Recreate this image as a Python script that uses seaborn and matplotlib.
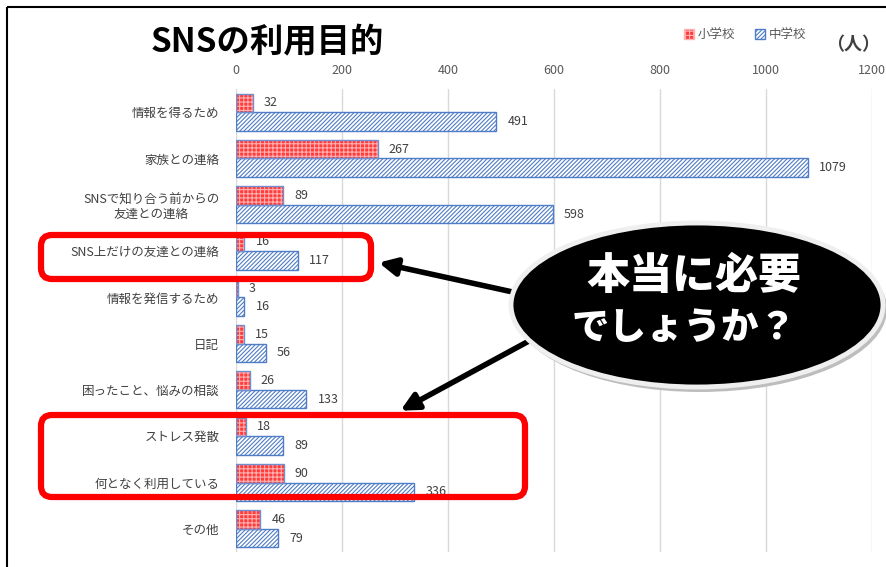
import numpy as np
import pandas as pd
import seaborn as sns
import matplotlib.pyplot as plt
from matplotlib.patches import Patch, Rectangle, FancyBboxPatch, Ellipse, FancyArrowPatch
from matplotlib.transforms import Affine2D

categories = ["情報を得るため", "家族との連絡", "SNSで知り合う前からの\n友達との連絡",
              "SNS上だけの友達との連絡", "情報を発信するため", "日記",
              "困ったこと、悩みの相談", "ストレス発散", "何となく利用している", "その他"]
elementary = [32, 267, 89, 16, 3, 15, 26, 18, 90, 46]
junior_high = [491, 1079, 598, 117, 16, 56, 133, 89, 336, 79]
schools = ["小学校", "中学校"]
xticks = [0, 200, 400, 600, 800, 1000, 1200]

W, H = 887, 567

df = pd.DataFrame({
    "category": categories * 2,
    "count": elementary + junior_high,
    "school": [schools[0]] * len(categories) + [schools[1]] * len(categories),
})

sns.set_style("white")
plt.rcParams['font.family'] = ['Noto Sans CJK JP', 'DejaVu Sans']
plt.rcParams['hatch.linewidth'] = 0.8

fig = plt.figure(figsize=(W / 100, H / 100), dpi=100)
ax = fig.add_axes([236 / W, 1 - 552 / H, 636 / W, (552 - 89) / H])

red_face, red_hatch = "#ff3c3c", "#ffb0b0"
blue_edge = "#4f7cc6"

sns.barplot(data=df, y="category", x="count", hue="school", orient="h",
            palette=[red_face, "white"], ax=ax, legend=False, width=0.8,
            saturation=1)

for bar in ax.containers[0]:
    bar.set_hatch("++++")
    bar.set_edgecolor(red_hatch)
    bar.set_linewidth(0)
    # blue outline on top of the pink hatch
    ax.add_patch(Rectangle(bar.get_xy(), bar.get_width(), bar.get_height(),
                           fill=False, edgecolor="#6f8fd0", linewidth=1, zorder=3))
for bar in ax.containers[1]:
    bar.set_hatch("////////")
    bar.set_edgecolor(blue_edge)
    bar.set_linewidth(1)

for cont in ax.containers:
    ax.bar_label(cont, padding=8, fontsize=9, color="#404040")

ax.set_xlim(0, 1200)
ax.set_ylim(9.5, -0.5)
ax.set_xticks(xticks)
ax.xaxis.tick_top()
ax.tick_params(axis="x", length=0, pad=9, labelsize=9, labelcolor="#595959")
ax.tick_params(axis="y", length=0, pad=12, labelsize=9, labelcolor="#404040")
for lab in ax.get_yticklabels():
    lab.set_multialignment("center")
ax.grid(axis="x", color="#d9d9d9", linewidth=1)
ax.set_axisbelow(True)
for s in ax.spines.values():
    s.set_visible(False)
ax.set_xlabel("")
ax.set_ylabel("")

# title, unit, legend
fig.text(267 / W, 1 - 43 / H, "SNSの利用目的", ha="center", va="center",
         fontsize=24, fontweight="bold", color="black")
fig.text(853 / W, 1 - 45 / H, "（人）", ha="center", va="center",
         fontsize=13, fontweight="bold", color="#404040")
handles = [Patch(facecolor=red_face, edgecolor=red_hatch, hatch="++++"),
           Patch(facecolor="white", edgecolor=blue_edge, hatch="////////")]
fig.legend(handles, schools, loc="center", bbox_to_anchor=(745 / W, 1 - 35 / H),
           ncol=2, frameon=False, fontsize=9, handlelength=0.8, handleheight=0.8,
           handletextpad=0.3, columnspacing=1.6, labelcolor="#595959")

# pixel coordinates (top-left origin) for the annotations
px = Affine2D().scale(1, -1).translate(0, H)

fig.patches.append(Rectangle((7, 7), W + 20, H + 20, fill=False,
                             edgecolor="black", linewidth=1.5, transform=px))

for (x0, y0, x1, y1) in [(41, 235, 371, 279), (41, 415, 525, 497)]:
    fig.patches.append(FancyBboxPatch((x0, y0), x1 - x0, y1 - y0,
                                      boxstyle="round,pad=0,rounding_size=11",
                                      fill=False, edgecolor="#ff0000", linewidth=4.5,
                                      transform=px, zorder=5))

for (tail, head) in [((540, 298), (376, 262)), ((540, 335), (398, 412))]:
    fig.patches.append(FancyArrowPatch(tail, head, arrowstyle="-|>", mutation_scale=26,
                                       color="black", linewidth=4, transform=px, zorder=6))

fig.patches.append(Ellipse((700, 309), 374, 166, facecolor="#bdbdbd", edgecolor="none",
                           transform=px, zorder=7))
fig.patches.append(Ellipse((697, 305), 372, 164, facecolor="black", edgecolor="#efefef",
                           linewidth=3.5, transform=px, zorder=8))
fig.text(694 / W, 1 - 276 / H, "本当に必要", ha="center", va="center", fontsize=31,
         fontweight="black", color="white", zorder=9)
fig.text(684 / W, 1 - 328 / H, "でしょうか？", ha="center", va="center", fontsize=27,
         fontweight="black", color="white", zorder=9)

fig.savefig("out.png", dpi=100)
